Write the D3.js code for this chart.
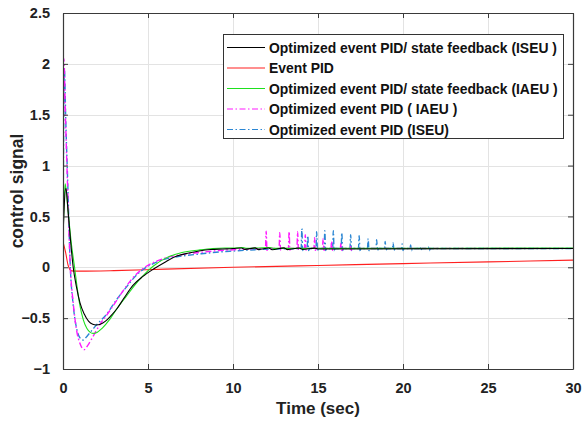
<!DOCTYPE html>
<html>
<head>
<meta charset="utf-8">
<script src="https://d3js.org/d3.v7.min.js"></script>
<style>
  html, body { margin: 0; padding: 0; background: #fff; }
  svg { display: block; font-family: "Liberation Sans", Arial, sans-serif; }
</style>
</head>
<body>
<svg id="chart" width="582" height="425"></svg>
<script>
// Axis ticks
const xTicks = [0, 5, 10, 15, 20, 25, 30];
const yTicks = [-1, -0.5, 0, 0.5, 1, 1.5, 2, 2.5];

// Legend entries (label order as drawn in the legend)
const seriesNames = [
  "Optimized event PID/ state feedback (ISEU )",
  "Event PID",
  "Optimized event PID/ state feedback (IAEU )",
  "Optimized event PID ( IAEU )",
  "Optimized event PID (ISEU)"
];

// Transient response samples [time (s), control signal]
const sfIseu = [[0,0.3],[0.07,0.6],[0.17,0.78],[0.3,0.55],[0.45,0.25],[0.6,0.0],[0.8,-0.2],[1.0,-0.35],[1.25,-0.46],[1.5,-0.53],[1.75,-0.56],[1.96,-0.567],[2.2,-0.56],[2.5,-0.53],[2.8,-0.48],[3.16,-0.41],[3.6,-0.3],[4.1,-0.18],[4.7,-0.09],[5.3,-0.02],[6.0,0.05],[6.7,0.11],[7.4,0.14],[8.0,0.16],[8.7,0.175],[9.4,0.18],[10,0.184]];
const eventPid = [[0,0.25],[0.15,0.15],[0.3,0.02],[0.5,-0.035],[1.0,-0.038],[3,-0.033],[6,-0.018],[10,0.0],[15,0.018],[20,0.036],[25,0.053],[30,0.07]];
const sfIaeu = [[0,0.3],[0.06,0.62],[0.13,0.82],[0.3,0.55],[0.5,0.22],[0.68,0.0],[0.85,-0.22],[1.0,-0.38],[1.2,-0.52],[1.4,-0.6],[1.6,-0.64],[1.76,-0.65],[2.0,-0.64],[2.3,-0.6],[2.76,-0.51],[3.2,-0.4],[3.75,-0.28],[4.2,-0.18],[4.7,-0.085],[5.3,0.01],[6.1,0.095],[7.0,0.145],[8.0,0.17],[8.8,0.185],[9.5,0.19],[10,0.19]];
const pidIaeu = [[0,0.3],[0.05,2.05],[0.15,1.45],[0.25,0.9],[0.43,0.0],[0.6,-0.35],[0.8,-0.62],[1.0,-0.75],[1.24,-0.81],[1.45,-0.77],[1.7,-0.7],[2.0,-0.61],[2.3,-0.53],[2.57,-0.47],[3.1,-0.34],[3.75,-0.18],[4.3,-0.07],[4.9,0.01],[5.5,0.06],[6.1,0.095],[7.0,0.125],[8.0,0.145],[9.0,0.162],[10,0.172],[11,0.18]];
const pidIseu = [[0,0.25],[0.08,1.95],[0.17,1.4],[0.27,0.88],[0.43,0.0],[0.6,-0.37],[0.8,-0.6],[0.98,-0.69],[1.18,-0.715],[1.45,-0.67],[1.75,-0.61],[2.0,-0.56],[2.3,-0.51],[2.57,-0.46],[3.1,-0.33],[3.75,-0.19],[4.3,-0.08],[4.9,0.0],[5.5,0.05],[6.1,0.085],[7.0,0.11],[8.0,0.13],[9.0,0.148],[10,0.16],[11,0.17],[12,0.178],[13,0.182]];

// Settled level after the transient
const settleLevel = [0.184, 0.19, 0.186, 0.184];

// Small ripples around the settled level [time, offset]
const sfIseuRipple = [[10.5,0.006],[10.7,-0.008],[11.3,0.007],[11.5,-0.01],[12.1,0.006],[12.3,-0.012],[13.0,0.007],[13.2,-0.01],[13.9,0.006],[14.1,-0.008],[14.8,0.004],[15.0,-0.004]];
const sfIaeuRipple = [[9.1,0.012],[9.25,-0.004],[10.6,0.005],[10.8,-0.004],[12.2,0.004],[12.4,-0.004]];

// Event-triggered spikes [time, peak value]
const pidIaeuSpikes = [[11.95,0.355],[12.75,0.34],[13.3,0.35],[13.8,0.35],[14.25,0.32],[14.8,0.29],[15.3,0.28],[15.8,0.255],[16.35,0.235],[16.9,0.21]];
const pidIseuSpikes = [[14.05,0.38],[14.4,0.31],[14.92,0.35],[15.4,0.36],[15.9,0.36],[16.4,0.34],[16.92,0.32],[17.42,0.31],[17.95,0.28],[18.45,0.27],[18.95,0.255],[19.42,0.24],[19.95,0.23],[20.45,0.22],[21.0,0.205],[21.5,0.198]];

const colors = ["#000000", "#ff2020", "#1ee01e", "#ff1aff", "#2b86d3"];
const dashes = ["none", "none", "none", "6,2.5,1.5,2.5", "6,2.5,1.5,2.5"];

// Build a full trace: transient samples, ripple, spikes, then hold to 30 s
function buildTrace(transient, level, ripple, spikes) {
  const pts = transient.map(d => [d[0], d[1]]);
  const start = transient[transient.length - 1][0];
  const extra = [];
  (ripple || []).forEach(r => extra.push([r[0], level + r[1]]));
  (spikes || []).forEach(s => {
    extra.push([s[0] - 0.04, level]);
    extra.push([s[0], s[1]]);
    extra.push([s[0] + 0.05, level - 0.02]);
    extra.push([s[0] + 0.11, level]);
  });
  extra.filter(p => p[0] > start).sort((a, b) => a[0] - b[0]).forEach(p => pts.push(p));
  pts.push([30, level]);
  return pts;
}

const traces = [
  buildTrace(sfIseu, settleLevel[0], sfIseuRipple, []),
  eventPid,
  buildTrace(sfIaeu, settleLevel[1], sfIaeuRipple, []),
  buildTrace(pidIaeu, settleLevel[2], [], pidIaeuSpikes),
  buildTrace(pidIseu, settleLevel[3], [], pidIseuSpikes)
];

const svg = d3.select("#chart");
const m = { left: 63, right: 573, top: 13, bottom: 369 };

const x = d3.scaleLinear().domain([0, 30]).range([m.left, m.right]);
const y = d3.scaleLinear().domain([-1, 2.5]).range([m.bottom, m.top]);

// Grid
const grid = svg.append("g").attr("stroke", "#e3e3e3").attr("stroke-width", 1);
xTicks.forEach(t => grid.append("line")
  .attr("x1", Math.round(x(t)) + 0.5).attr("x2", Math.round(x(t)) + 0.5)
  .attr("y1", m.top).attr("y2", m.bottom));
yTicks.forEach(t => grid.append("line")
  .attr("x1", m.left).attr("x2", m.right)
  .attr("y1", Math.round(y(t)) + 0.5).attr("y2", Math.round(y(t)) + 0.5));

// Data lines
svg.append("clipPath").attr("id", "plotclip")
  .append("rect").attr("x", m.left).attr("y", m.top)
  .attr("width", m.right - m.left).attr("height", m.bottom - m.top);

const line = d3.line().x(d => x(d[0])).y(d => y(d[1])).curve(d3.curveMonotoneX);
const plot = svg.append("g").attr("clip-path", "url(#plotclip)");
// draw order: event PID first, then dashed PIDs, then state feedback
[1, 4, 3, 2, 0].forEach(i => {
  plot.append("path")
    .attr("d", line(traces[i]))
    .style("fill", "none")
    .style("stroke", colors[i])
    .style("stroke-width", i >= 3 ? 1.4 : 1.1)
    .style("stroke-dasharray", dashes[i]);
});

// Axes (box with inward ticks)
const axisColor = "#3a3a3a";
const xAxisB = d3.axisBottom(x).tickValues(xTicks).tickSizeInner(-5).tickSizeOuter(0).tickPadding(14).tickFormat(d3.format("d"));
const xAxisT = d3.axisTop(x).tickValues(xTicks).tickSizeInner(-5).tickSizeOuter(0).tickFormat("");
const yAxisL = d3.axisLeft(y).tickValues(yTicks).tickSizeInner(-5).tickSizeOuter(0).tickPadding(13).tickFormat(d3.format("~g"));
const yAxisR = d3.axisRight(y).tickValues(yTicks).tickSizeInner(-5).tickSizeOuter(0).tickFormat("");

function styleAxis(g) {
  g.select(".domain").attr("stroke", axisColor).attr("stroke-width", 1.2);
  g.selectAll(".tick line").attr("stroke", axisColor);
  g.selectAll(".tick text").attr("fill", "#222").attr("font-size", 14.5).attr("font-weight", "bold")
    .attr("font-family", "'Liberation Sans', Arial, sans-serif");
}
svg.append("g").attr("transform", `translate(0,${m.bottom})`).call(xAxisB).call(styleAxis);
svg.append("g").attr("transform", `translate(0,${m.top})`).call(xAxisT).call(styleAxis);
svg.append("g").attr("transform", `translate(${m.left},0)`).call(yAxisL).call(styleAxis);
svg.append("g").attr("transform", `translate(${m.right},0)`).call(yAxisR).call(styleAxis);

// Axis titles
svg.append("text").attr("x", (m.left + m.right) / 2).attr("y", 414)
  .attr("text-anchor", "middle").attr("font-size", 17).attr("font-weight", "bold").attr("fill", "#222")
  .text("Time (sec)");
svg.append("text").attr("transform", `translate(23,${(m.top + m.bottom) / 2}) rotate(-90)`)
  .attr("text-anchor", "middle").attr("font-size", 17.5).attr("font-weight", "bold").attr("fill", "#222")
  .text("control signal");

// Legend
const lg = svg.append("g");
lg.append("rect").attr("x", 223.5).attr("y", 34.5).attr("width", 340).attr("height", 104)
  .style("fill", "#fff").style("stroke", "#333").style("stroke-width", 1);
seriesNames.forEach((name, i) => {
  const yy = 47.5 + i * 20.5;
  lg.append("line").attr("x1", 227).attr("x2", 265).attr("y1", yy).attr("y2", yy)
    .style("stroke", colors[i]).style("stroke-width", 1.2).style("stroke-dasharray", dashes[i]);
  lg.append("text").attr("x", 269).attr("y", yy + 5)
    .attr("font-size", 13.9).attr("font-weight", "bold").attr("fill", "#111")
    .text(name);
});
</script>
</body>
</html>
